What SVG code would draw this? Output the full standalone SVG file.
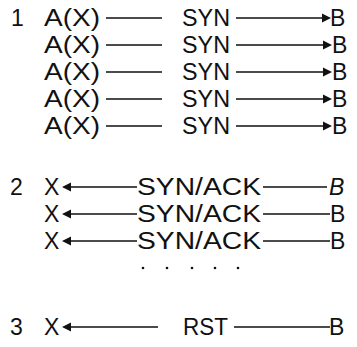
<svg xmlns="http://www.w3.org/2000/svg" width="357" height="347" viewBox="0 0 357 347">
<style>
text{font-family:"Liberation Sans",Arial,sans-serif;font-size:23px;fill:#111}
.ln{stroke:#111;stroke-width:1.3;fill:none}
.ah{fill:#111}
</style>
<rect width="357" height="347" fill="#fff"/>
<g id="labels">
<text x="11" y="26">1</text>
<text x="10" y="195">2</text>
<text x="10" y="335">3</text>
</g>
<g id="step1">
<g id="a1"><text x="44" y="26" textLength="56" lengthAdjust="spacingAndGlyphs">A(X)</text></g>
<g id="a2"><text x="44" y="53" textLength="56" lengthAdjust="spacingAndGlyphs">A(X)</text></g>
<g id="a3"><text x="44" y="80" textLength="56" lengthAdjust="spacingAndGlyphs">A(X)</text></g>
<g id="a4"><text x="44" y="107" textLength="56" lengthAdjust="spacingAndGlyphs">A(X)</text></g>
<g id="a5"><text x="44" y="134" textLength="56" lengthAdjust="spacingAndGlyphs">A(X)</text></g>
<g id="s1"><text x="182" y="26" textLength="48" lengthAdjust="spacingAndGlyphs">SYN</text></g>
<g id="s2"><text x="182" y="53" textLength="48" lengthAdjust="spacingAndGlyphs">SYN</text></g>
<g id="s3"><text x="182" y="80" textLength="48" lengthAdjust="spacingAndGlyphs">SYN</text></g>
<g id="s4"><text x="182" y="107" textLength="48" lengthAdjust="spacingAndGlyphs">SYN</text></g>
<g id="s5"><text x="182" y="134" textLength="48" lengthAdjust="spacingAndGlyphs">SYN</text></g>
<g id="b1"><text x="330" y="26">B</text></g>
<g id="b2"><text x="332" y="53">B</text></g>
<g id="b3"><text x="332" y="80">B</text></g>
<g id="b4"><text x="332" y="107">B</text></g>
<g id="b5"><text x="332" y="134">B</text></g>
</g>
<g id="step2">
<g id="x1"><text x="44" y="195">X</text></g>
<g id="x2"><text x="44" y="222">X</text></g>
<g id="x3"><text x="44" y="249">X</text></g>
<g id="sa1"><text x="137" y="195" textLength="124" lengthAdjust="spacingAndGlyphs">SYN/ACK</text></g>
<g id="sa2"><text x="137" y="222" textLength="124" lengthAdjust="spacingAndGlyphs">SYN/ACK</text></g>
<g id="sa3"><text x="137" y="249" textLength="124" lengthAdjust="spacingAndGlyphs">SYN/ACK</text></g>
<g id="bb1"><text x="329" y="195" font-style="italic">B</text></g>
<g id="bb2"><text x="330" y="222">B</text></g>
<g id="bb3"><text x="330" y="249">B</text></g>
<g id="dots" class="ah">
<circle cx="143" cy="268" r="1.3"/><circle cx="167" cy="268" r="1.3"/><circle cx="192" cy="268" r="1.3"/><circle cx="215" cy="268" r="1.3"/><circle cx="238" cy="268" r="1.3"/>
</g>
</g>
<g id="step3">
<g id="x4"><text x="44" y="335">X</text></g>
<g id="rst"><text x="183" y="335" textLength="45" lengthAdjust="spacingAndGlyphs">RST</text></g>
<g id="bb4"><text x="329" y="335">B</text></g>
</g>
<g id="connectors">
<path class="ln" d="M106 18H162M106 45H162M106 72H162M106 99H162M106 126H162"/>
<path class="ln" d="M236 18H323M236 45H324M236 72H324M236 99H324M236 126H324"/>
<path class="ah" d="M322 13.5L331 18L322 22.5ZM323 40.5L332 45L323 49.5ZM323 67.5L332 72L323 76.5ZM323 94.5L332 99L323 103.5ZM323 121.5L332 126L323 130.5Z"/>
<path class="ln" d="M71 187H137M71 214H137M71 241H137"/>
<path class="ln" d="M263 187H327M263 214H330M263 241H330"/>
<path class="ah" d="M62 187L71 182.5L71 191.5ZM62 214L71 209.5L71 218.5ZM62 241L71 236.5L71 245.5Z"/>
<path class="ln" d="M71 327H158M234 327H330"/>
<path class="ah" d="M62 327L71 322.5L71 331.5Z"/>
</g>
</svg>
